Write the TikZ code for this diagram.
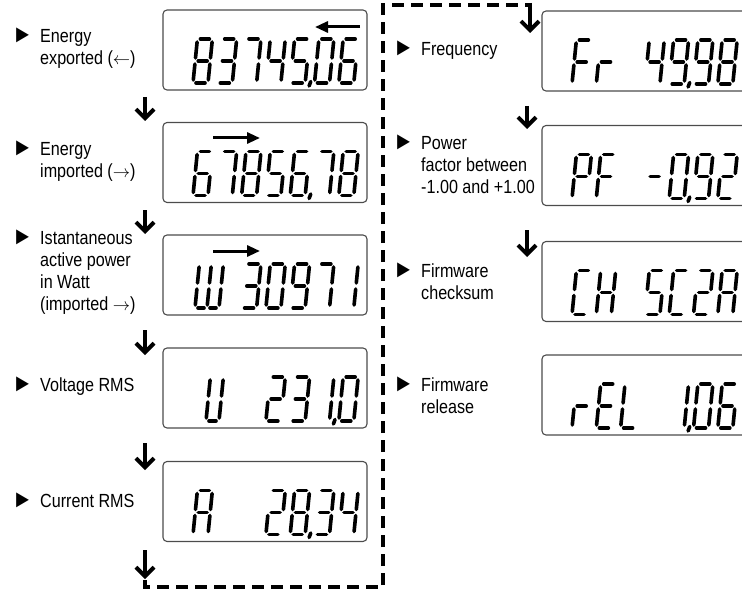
\documentclass[tikz,border=0pt]{standalone}
\usepackage{fontspec}
\setmainfont{Liberation Sans}[FakeStretch=0.85]
\usepackage{tikz}
\usetikzlibrary{arrows.meta}

% seven segment glyphs
\def\gzero{a,b,c,d,e,f}
\def\gone{b,c}
\def\gtwo{a,b,d,e,g}
\def\gthree{a,b,c,d,g}
\def\gfour{b,c,f,g}
\def\gfive{a,c,d,f,g}
\def\gsix{a,c,d,e,f,g}
\def\gseven{a,b,c}
\def\geight{a,b,c,d,e,f,g}
\def\gnine{a,b,c,d,f,g}
\def\gA{a,b,c,e,f,g}
\def\gC{a,d,e,f}
\def\gE{a,d,e,f,g}
\def\gF{a,e,f,g}
\def\gH{b,c,e,f,g}
\def\gL{d,e,f}
\def\gP{a,b,e,f,g}
\def\gr{e,g}
\def\gminus{g}

\newcommand{\lcd}[4][15]{%
\begin{scope}[shift={(#2,#3)},xslant=0.1,yscale=-1]
\coordinate(sa1)at(3,44);\coordinate(sa2)at(#1-3,44);
\coordinate(sb1)at(#1,41);\coordinate(sb2)at(#1,25);
\coordinate(sc1)at(#1,19);\coordinate(sc2)at(#1,3);
\coordinate(sd1)at(3,0);\coordinate(sd2)at(#1-3,0);
\coordinate(se1)at(0,3);\coordinate(se2)at(0,19);
\coordinate(sf1)at(0,25);\coordinate(sf2)at(0,41);
\coordinate(sg1)at(3,22);\coordinate(sg2)at(#1-3,22);
\edef\seglist{#4}%
\foreach \s in \seglist {\draw[seg](s\s1)--(s\s2);}
\end{scope}}
\newcommand{\lcdrow}[3]{\foreach \p/\g in {#3}{\lcd{#1+30+24.3*\p}{#2}{\g}}}
\newcommand{\lcddot}[2]{\draw[seg,shift={(#1,#2)},xslant=0.1,yscale=-1](0.6,1.5)--(-0.6,-3);}
\newcommand{\pointer}{\llap{{\fontsize{25}{22}\selectfont ►}\hspace{7pt}}}

\begin{document}
\begin{tikzpicture}[x=1pt,y=-1pt,
seg/.style={line width=3.6pt,line cap=round},
lcdbox/.style={draw=black!70,line width=1.1pt,rounded corners=4pt,minimum width=204pt,minimum height=80pt,inner sep=0pt},
lbl/.style={anchor=west,align=left,inner sep=0pt,font=\fontsize{19}{22}\selectfont},
flow/.style={line width=4pt,-{Straight Barb[length=9pt,width=18pt]}},
loopline/.style={line width=4pt,dash pattern=on 12pt off 7pt},
indic/.style={line width=3pt,-{Triangle[length=13pt,width=11pt]}}]
\useasboundingbox(0,0)rectangle(742,591);

\node[lcdbox](d1)at(265,50){};
\node[lcdbox](d2)at(265,162.5){};
\node[lcdbox](d3)at(265,275){};
\node[lcdbox](d4)at(265,388){};
\node[lcdbox](d5)at(265,501.5){};
\node[lcdbox](d6)at(644,51){};
\node[lcdbox](d7)at(644,165.5){};
\node[lcdbox](d8)at(644,281.5){};
\node[lcdbox](d9)at(644,395){};

\node[lbl](l1)at(40,48){\pointer Energy\\exported ($\leftarrow$)};
\node[lbl](l2)at(40,161){\pointer Energy\\imported ($\rightarrow$)};
\node[lbl](l3)at(40,272){\pointer Istantaneous\\active power\\in Watt\\(imported $\rightarrow$)};
\node[lbl](l4)at(40,386){\pointer Voltage RMS};
\node[lbl](l5)at(40,500){\pointer Current RMS};
\node[lbl](l6)at(421,50){\pointer Frequency};
\node[lbl](l7)at(421,164){\pointer Power\\factor between\\-1.00 and +1.00};
\node[lbl](l8)at(421,281){\pointer Firmware\\checksum};
\node[lbl](l9)at(421,395){\pointer Firmware\\release};

% displays
\lcdrow{163}{83}{0/\geight,1/\gthree,2/\gseven,3/\gfour,4/\gfive,5/\gzero,6/\gsix}
\lcddot{163+30+24.3*5-4.5}{83}
\lcdrow{163}{195.5}{0/\gsix,1/\gseven,2/\geight,3/\gfive,4/\gsix,5/\gseven,6/\geight}
\lcddot{163+30+24.3*5-4.5}{195.5}
\lcd[12]{195}{308}{b,c,d,e,f}\lcd[12]{207}{308}{b,c,d}
\lcdrow{163}{308}{2/\gthree,3/\gzero,4/\gnine,5/\gseven,6/\gone}
\lcd[13]{206}{421}{b,c,d,e,f}
\lcdrow{163}{421}{3/\gtwo,4/\gthree,5/\gone,6/\gzero}
\lcddot{163+30+24.3*6-4.5}{421}
\lcdrow{163}{534.5}{0/\gA,3/\gtwo,4/\geight,5/\gthree,6/\gfour}
\lcddot{163+30+24.3*5-4.5}{534.5}
\lcdrow{542}{84}{0/\gF,1/\gr,3/\gfour,4/\gnine,5/\gnine,6/\geight}
\lcddot{542+30+24.3*5-4.5}{84}
\lcdrow{542}{198.5}{0/\gP,1/\gF,3/\gminus,4/\gzero,5/\gnine,6/\gtwo}
\lcddot{542+30+24.3*5-4.5}{198.5}
\lcdrow{542}{314.5}{0/\gC,1/\gH,3/\gfive,4/\gC,5/\gtwo,6/\gA}
\lcdrow{542}{428}{0/\gr,1/\gE,2/\gL,4/\gone,5/\gzero,6/\gsix}
\lcddot{542+30+24.3*5-4.5}{428}

\coordinate(i1s)at(360,27);\coordinate(i1e)at(315,27);
\coordinate(i2s)at(213,138);\coordinate(i2e)at(260,138);
\coordinate(i3s)at(213,251);\coordinate(i3e)at(260,251);
\draw[indic](i1s)--(i1e);
\draw[indic](i2s)--(i2e);
\draw[indic](i3s)--(i3e);

% flow
\coordinate(f1s)at(145,97);\coordinate(f1e)at(145,121);
\coordinate(f2s)at(145,210);\coordinate(f2e)at(145,234);
\coordinate(f3s)at(145,330);\coordinate(f3e)at(145,355);
\coordinate(f4s)at(145,443);\coordinate(f4e)at(145,470);
\coordinate(f5s)at(145,550);\coordinate(f5e)at(145,579);
\coordinate(r0s)at(530,3);\coordinate(r0e)at(530,33);
\coordinate(r1s)at(527,106);\coordinate(r1e)at(527,129);
\coordinate(r2s)at(527,230);\coordinate(r2e)at(527,257);
\foreach \a in {f1,f2,f3,f4,f5,r0,r1,r2}
\draw[flow](\a s)--(\a e);
\draw[loopline](145,580)--(145,587)--(383,587)--(383,5)--(530,5);
\end{tikzpicture}
\end{document}
